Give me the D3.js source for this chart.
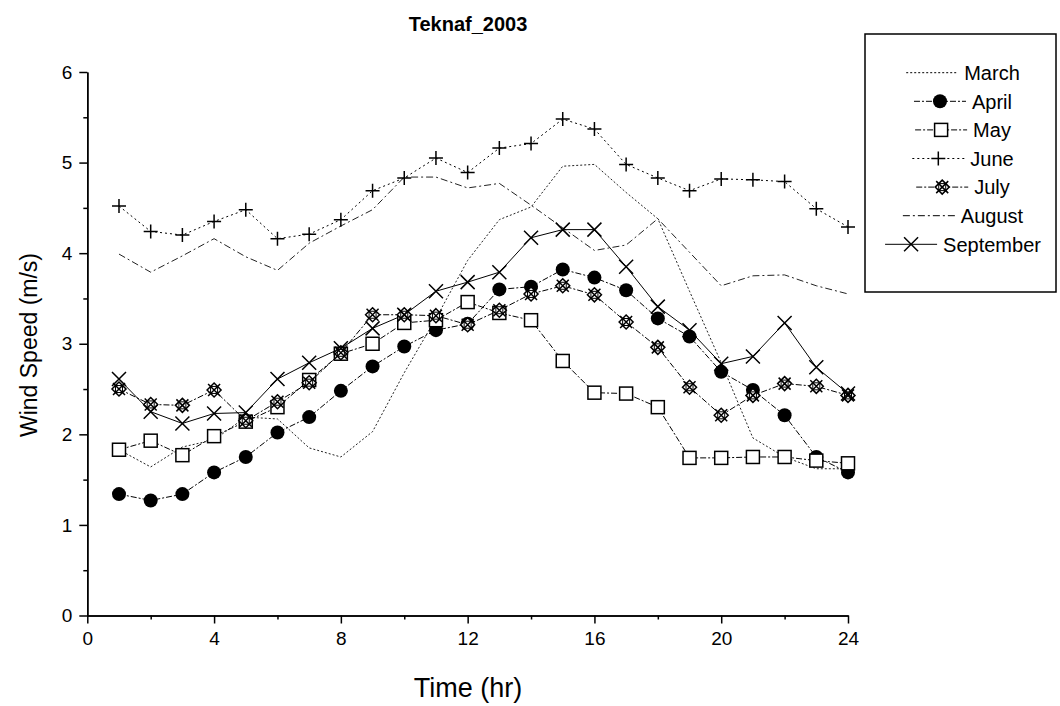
<!DOCTYPE html>
<html><head><meta charset="utf-8">
<script src="https://cdn.jsdelivr.net/npm/d3@7"></script>
<style>body{margin:0;background:#fff}svg{display:block}text{font-family:"Liberation Sans",Arial,sans-serif;fill:#000}</style>
</head><body>
<svg id="c" width="1060" height="706"></svg>
<script>
const hours = d3.range(1, 25);
const march = [1.83,1.64,1.86,1.94,2.19,2.17,1.85,1.75,2.03,2.68,3.28,3.92,4.37,4.51,4.96,4.98,4.67,4.38,3.58,2.79,1.96,1.75,1.62,1.62];
const april = [1.34,1.27,1.34,1.58,1.75,2.02,2.19,2.48,2.75,2.97,3.15,3.22,3.60,3.63,3.82,3.73,3.59,3.28,3.08,2.69,2.49,2.21,1.75,1.58];
const may = [1.83,1.93,1.77,1.98,2.14,2.30,2.60,2.89,3.00,3.23,3.26,3.46,3.34,3.26,2.81,2.46,2.45,2.30,1.74,1.74,1.75,1.75,1.71,1.68];
const june = [4.52,4.24,4.20,4.35,4.48,4.16,4.21,4.37,4.69,4.83,5.05,4.89,5.16,5.21,5.48,5.37,4.98,4.83,4.69,4.82,4.81,4.79,4.49,4.29];
const july = [2.50,2.33,2.32,2.49,2.15,2.36,2.57,2.90,3.32,3.32,3.31,3.21,3.37,3.55,3.64,3.54,3.24,2.96,2.52,2.21,2.43,2.56,2.53,2.43];
const august = [3.99,3.79,3.97,4.16,3.96,3.81,4.11,4.30,4.48,4.84,4.84,4.72,4.77,4.53,4.28,4.03,4.09,4.38,4.01,3.64,3.75,3.76,3.64,3.55];
const september = [2.61,2.25,2.12,2.23,2.24,2.61,2.79,2.95,3.17,3.32,3.58,3.68,3.79,4.17,4.26,4.26,3.85,3.41,3.15,2.78,2.86,3.23,2.74,2.45];
const xTicks = [0,4,8,12,16,20,24];
const xMinor = [2,6,10,14,18,22];
const yTicks = [0,1,2,3,4,5,6];
const yMinor = [0.5,1.5,2.5,3.5,4.5,5.5];

const series = [
  {name:"March", values:march, dash:"2,2", marker:null},
  {name:"April", values:april, dash:"6,2,2,2", marker:"circle"},
  {name:"May", values:may, dash:"6,2,2,2", marker:"square"},
  {name:"June", values:june, dash:"2,3", marker:"plus"},
  {name:"July", values:july, dash:"6,2,2,2", marker:"xdiamond"},
  {name:"August", values:august, dash:"7,3,2,3", marker:null},
  {name:"September", values:september, dash:null, marker:"x"}
];

const svg = d3.select("#c");
const x = d3.scaleLinear().domain([0,24]).range([87.3,848]);
const y = d3.scaleLinear().domain([0,6]).range([615.5,72]);

function styleAxis(g){
  g.select(".domain").attr("stroke","#000").attr("stroke-width",1.5);
  g.selectAll(".tick line").attr("stroke","#000").attr("stroke-width",1.5);
  g.selectAll(".tick text").style("font-size","19px");
}
const ax = svg.append("g").attr("transform",`translate(0,${y(0)})`)
  .call(d3.axisBottom(x).tickValues(xTicks).tickSize(8).tickPadding(8).tickSizeOuter(0).tickFormat(d3.format("d")));
styleAxis(ax);
const axm = svg.append("g").attr("transform",`translate(0,${y(0)})`)
  .call(d3.axisBottom(x).tickValues(xMinor).tickSize(4).tickFormat("").tickSizeOuter(0));
styleAxis(axm);
const ay = svg.append("g").attr("transform",`translate(${x(0)},0)`)
  .call(d3.axisLeft(y).tickValues(yTicks).tickSize(8).tickPadding(7).tickSizeOuter(0).tickFormat(d3.format("d")));
styleAxis(ay);
const aym = svg.append("g").attr("transform",`translate(${x(0)},0)`)
  .call(d3.axisLeft(y).tickValues(yMinor).tickSize(4).tickFormat("").tickSizeOuter(0));
styleAxis(aym);

function drawMarker(g, type, cx, cy){
  const s = g.append("g").attr("transform",`translate(${cx},${cy})`);
  if(type==="circle"){
    s.append("circle").attr("r",7).attr("fill","#000");
  } else if(type==="square"){
    s.append("rect").attr("x",-6.5).attr("y",-6.5).attr("width",13).attr("height",13)
      .attr("fill","#fff").attr("stroke","#000").attr("stroke-width",1.5);
  } else if(type==="plus"){
    s.append("path").attr("d","M-7,0H7M0,-7V7").attr("stroke","#000").attr("stroke-width",1.5);
  } else if(type==="x"){
    s.append("path").attr("d","M-7,-7L7,7M-7,7L7,-7").attr("stroke","#000").attr("stroke-width",1.5);
  } else if(type==="xdiamond"){
    s.append("path").attr("d","M0,-7L7,0L0,7L-7,0Z").attr("fill","#fff").attr("stroke","#000").attr("stroke-width",1.5);
    s.append("path").attr("d","M-6,-6L6,6M-6,6L6,-6").attr("stroke","#000").attr("stroke-width",1.5);
    s.append("path").attr("d","M-3.5,-3.5L3.5,-3.5L3.5,3.5L-3.5,3.5Z").attr("fill","none").attr("stroke","#000").attr("stroke-width",1);
  }
}

const line = d3.line().x((d,i)=>x(hours[i])).y(d=>y(d));
const plot = svg.append("g");
series.forEach(s=>{
  plot.append("path").datum(s.values).attr("d",line)
    .attr("fill","none").attr("stroke", s.marker? "#000":"#222").attr("stroke-width",1)
    .attr("stroke-dasharray", s.dash);
});
series.forEach(s=>{
  if(!s.marker) return;
  s.values.forEach((v,i)=>drawMarker(plot, s.marker, x(hours[i]), y(v)));
});

// titles
svg.append("text").attr("x",468).attr("y",31).attr("text-anchor","middle")
  .style("font-size","20px").style("font-weight","bold").text("Teknaf_2003");
svg.append("text").attr("x",468).attr("y",697).attr("text-anchor","middle")
  .style("font-size","27px").text("Time (hr)");
svg.append("text").attr("transform","translate(37,345) rotate(-90)").attr("text-anchor","middle")
  .style("font-size","23px").text("Wind Speed (m/s)");

// legend
const lg = svg.append("g");
lg.append("rect").attr("x",865).attr("y",34).attr("width",191).attr("height",258)
  .attr("fill","#fff").attr("stroke","#000").attr("stroke-width",1.5);
series.forEach((s,i)=>{
  const cy = 72.7 + i*28.6;
  const row = lg.append("g");
  const t = row.append("text").attr("y",cy).attr("dy","0.36em").style("font-size","20px").text(s.name);
  const tw = t.node().getComputedTextLength();
  const L = 52, gap = 6;
  const total = L + gap + tw;
  const x0 = 963 - total/2;
  t.attr("x", x0 + L + gap);
  row.append("line").attr("x1",x0).attr("x2",x0+L).attr("y1",cy).attr("y2",cy)
    .attr("stroke","#000").attr("stroke-width",1).attr("stroke-dasharray",s.dash);
  if(s.marker) drawMarker(row, s.marker, x0+L/2, cy);
});
</script>
</body></html>
